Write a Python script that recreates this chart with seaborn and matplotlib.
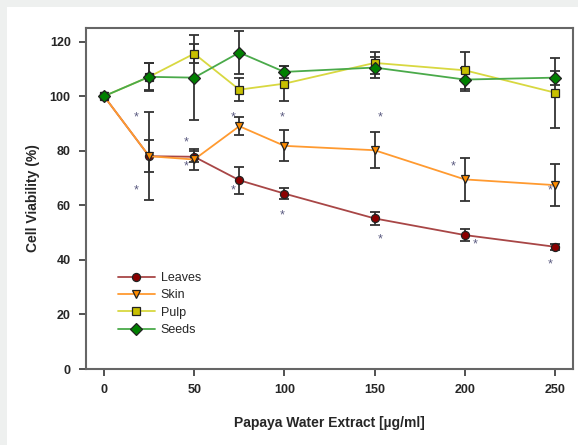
import numpy as np
import pandas as pd
import matplotlib
matplotlib.use("Agg")
import matplotlib.pyplot as plt
import seaborn as sns
from matplotlib.patches import Rectangle

# ---- data ----
conc = [0, 25, 50, 75, 100, 150, 200, 250]
leaves = [100, 78.0, 77.8, 69.2, 64.3, 55.2, 49.1, 44.8]
leaves_err = [0, 5.8, 2.0, 5.0, 2.0, 2.3, 2.1, 1.0]
skin = [100, 78.0, 76.8, 89.0, 81.8, 80.2, 69.5, 67.4]
skin_err = [0, 16.2, 4.0, 3.4, 5.7, 6.6, 8.0, 7.8]
pulp = [100, 107.1, 115.6, 102.4, 104.6, 112.2, 109.5, 101.3]
pulp_err = [0, 5.0, 3.5, 4.3, 6.3, 4.0, 6.7, 12.8]
seeds = [100, 107.1, 106.8, 116.0, 108.9, 110.5, 106.1, 106.8]
seeds_err = [0, 5.1, 15.6, 7.8, 2.3, 4.0, 4.3, 2.6]

series_names = ["Leaves", "Skin", "Pulp", "Seeds"]
ast_x = [18, 18, 45.5, 45.5, 71.7, 71.7, 98.7, 98.7, 153, 153, 193.7, 205.7, 247.2, 247.2]
ast_y = [92.2, 65.6, 83.0, 74.4, 92.2, 65.6, 92.2, 56.4, 92.2, 47.6, 74.4, 45.7, 65.6, 38.3]

xticks = [0, 50, 100, 150, 200, 250]
yticks = [0, 20, 40, 60, 80, 100, 120]

# ---- styles ----
line_colors = {"Leaves": "#a84646", "Skin": "#ff9a30", "Pulp": "#d8d840", "Seeds": "#4aaa4a"}
face_colors = {"Leaves": "#8b0000", "Skin": "#ff8c00", "Pulp": "#c8c000", "Seeds": "#008000"}
markers = {"Leaves": "o", "Skin": "v", "Pulp": "s", "Seeds": "D"}
msizes = {"Leaves": 5.8, "Skin": 6.2, "Pulp": 5.8, "Seeds": 6.0}

df = pd.DataFrame({
    "conc": conc * 4,
    "value": leaves + skin + pulp + seeds,
    "err": leaves_err + skin_err + pulp_err + seeds_err,
    "series": sum([[n] * len(conc) for n in series_names], []),
})

sns.set_style("white")
plt.rcParams["font.family"] = ["Liberation Sans", "DejaVu Sans"]

fig = plt.figure(figsize=(5.78, 4.45), dpi=100)
fig.patch.set_facecolor("#eef0ef")
fig.patches.append(Rectangle((7 / 578, 0), 1, 1 - 7 / 445, transform=fig.transFigure,
                             facecolor="white", edgecolor="none", zorder=-10))
ax = fig.add_axes([86 / 578, 1 - 369 / 445, (573 - 86) / 578, (369 - 28) / 445])
ax.set_zorder(1)
ax.set_facecolor("white")

# error bars
for name in series_names:
    sub = df[df.series == name]
    ax.errorbar(sub["conc"], sub["value"], yerr=sub["err"], fmt="none",
                ecolor="#333333", elinewidth=1.3, capsize=3.6, capthick=1.3, zorder=2)

sns.lineplot(data=df, x="conc", y="value", hue="series", style="series",
             hue_order=series_names, style_order=series_names,
             palette=line_colors, markers=markers, dashes=False,
             linewidth=1.3, legend=False, ax=ax, zorder=3)

handles = []
for line, name in zip(ax.lines[-4:], series_names):
    line.set_markerfacecolor(face_colors[name])
    line.set_markeredgecolor("#222222")
    line.set_markeredgewidth(0.9)
    line.set_markersize(msizes[name])
    line.set_zorder(3)
    handles.append(line)

for xa, ya in zip(ast_x, ast_y):
    ax.text(xa, ya, "*", color="#5a5a80", fontsize=9, ha="center", va="center", zorder=4)

ax.set_xlim(-10, 260)
ax.set_ylim(0, 125)
ax.set_xticks(xticks)
ax.set_yticks(yticks)
ax.set_xticklabels([str(t) for t in xticks], fontsize=9, fontweight="bold")
ax.set_yticklabels([str(t) for t in yticks], fontsize=9, fontweight="bold")
ax.tick_params(axis="both", direction="out", length=5, width=1.2, color="#333333",
               bottom=True, left=True, pad=6)
for sp in ax.spines.values():
    sp.set_color("#666666")
    sp.set_linewidth(1.5)

ax.set_xlabel("Papaya Water Extract [µg/ml]", fontsize=10, fontweight="bold", labelpad=14)
ax.set_ylabel("Cell Viability (%)", fontsize=10, fontweight="bold", labelpad=7)

leg = ax.legend(handles, series_names, loc="upper left", bbox_to_anchor=(0.065, 0.284),
                frameon=False, fontsize=9, handlelength=3.0, labelspacing=0.42,
                handletextpad=0.45, borderaxespad=0, borderpad=0)

fig.savefig("out.png", dpi=100)
